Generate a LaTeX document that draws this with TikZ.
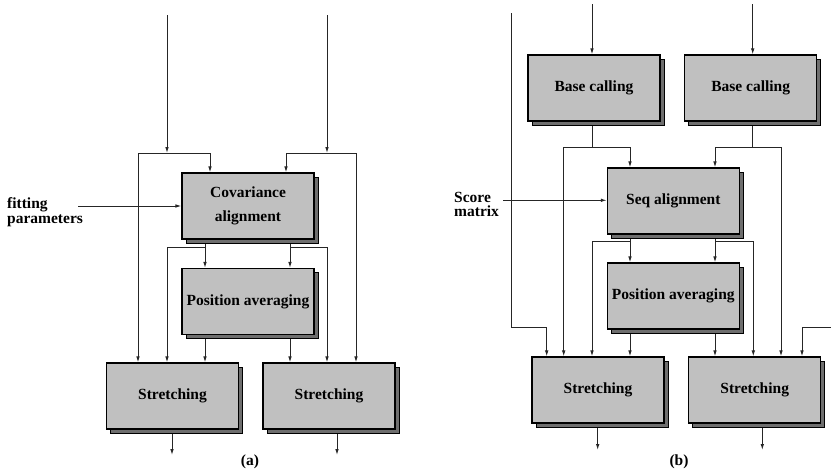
\documentclass[tikz,border=0pt]{standalone}
\usepackage{fontspec}
\setmainfont{Liberation Serif}
\usetikzlibrary{arrows.meta,shadows,backgrounds}
\definecolor{boxgray}{HTML}{C0C0C0}
\definecolor{shadegray}{HTML}{6E6E6E}
\tikzset{
  block/.style={rectangle, draw=black, line width=1.1pt, fill=boxgray,
    minimum width=132pt, minimum height=66pt, inner sep=0pt, align=center,
    font=\bfseries\fontsize{15.5}{24}\selectfont,
    copy shadow={shadow xshift=4pt, shadow yshift=-4pt, fill=shadegray, draw=black, line width=0.7pt}},
  wire/.style={line width=1pt, draw=black!85},
  arr/.style={wire, -{Latex[length=6pt,width=3.6pt]}},
  sidelabel/.style={align=left, inner sep=0pt, font=\bfseries\fontsize{15.5}{#1}\selectfont},
  caption/.style={inner sep=0pt, font=\bfseries\fontsize{15.5}{18}\selectfont}
}
\begin{document}
\begin{tikzpicture}[x=1pt, y=-1pt]
\useasboundingbox (0,0) rectangle (831,474);

% ---------------- (a) ----------------
\node[block] (cov) at (248,206)   {Covariance\\alignment};
\node[block] (pa)  at (248,301.5) {Position averaging};
\node[block] (stL) at (172.5,396) {Stretching};
\node[block] (stR) at (329,396)   {Stretching};

\node[sidelabel=15, anchor=west] (fit) at (7,212) {fitting\\parameters};
\node[caption] (capa) at (250,462) {(a)};

% column and junction points
\coordinate (c138) at (138,0);
\coordinate (c167) at (167,0);
\coordinate (c205) at (205,0);
\coordinate (c210) at (210,0);
\coordinate (c286) at (286,0);
\coordinate (c290) at (290,0);
\coordinate (c327) at (327,0);
\coordinate (c356) at (356,0);
\coordinate (inL)  at (167,15);
\coordinate (inR)  at (327,15);
\coordinate (jL)   at (167,153);
\coordinate (jR)   at (327,153);
\coordinate (kL)   at (205,247);
\coordinate (kR)   at (290,247);
\coordinate (fitend) at (78,206);
\coordinate (outL) at (172,455);
\coordinate (outR) at (337,455);

\begin{scope}[on background layer]
  \draw[arr] (inL) -- (jL);
  \draw[arr] (inR) -- (jR);
  \draw[arr] (jL) -| (cov.north -| c210);
  \draw[arr] (jL) -| (stL.north -| c138);
  \draw[arr] (jR) -| (cov.north -| c286);
  \draw[arr] (jR) -| (stR.north -| c356);
  \draw[arr] (fitend) -- (cov.west |- fitend);
  \draw[arr] (cov.south -| c205) -- (pa.north -| c205);
  \draw[arr] (cov.south -| c290) -- (pa.north -| c290);
  \draw[arr] (kL) -| (stL.north -| c167);
  \draw[arr] (kR) -| (stR.north -| c327);
  \draw[arr] (pa.south -| c205) -- (stL.north -| c205);
  \draw[arr] (pa.south -| c290) -- (stR.north -| c290);
  \draw[arr] (stL.south -| outL) -- (outL);
  \draw[arr] (stR.south -| outR) -- (outR);
\end{scope}

% ---------------- (b) ----------------
\node[block] (bcL)  at (594,88)    {Base calling};
\node[block] (bcR)  at (750.7,88)  {Base calling};
\node[block] (sa)   at (673.3,201) {Seq alignment};
\node[block] (pab)  at (673.3,296) {Position averaging};
\node[block] (stLb) at (598,390)   {Stretching};
\node[block] (stRb) at (754.7,390) {Stretching};

\node[sidelabel=14, anchor=west] (score) at (454,204) {Score\\matrix};
\node[caption] (capb) at (679,462) {(b)};

\coordinate (c547) at (546.7,0);
\coordinate (c563) at (563.7,0);
\coordinate (c592) at (592,0);
\coordinate (c630) at (630,0);
\coordinate (c715) at (715,0);
\coordinate (c753) at (753.3,0);
\coordinate (c781) at (781,0);
\coordinate (c802) at (802,0);
\coordinate (inLb) at (592,4);
\coordinate (inRb) at (752.7,4);
\coordinate (mL)   at (592,147);
\coordinate (mR)   at (752.7,147);
\coordinate (nL)   at (630,241.7);
\coordinate (nR)   at (715,241.7);
\coordinate (scoreend) at (503,200.3);
\coordinate (longtop)  at (511.7,13);
\coordinate (longbend) at (511.7,327);
\coordinate (rightin)  at (831,327);
\coordinate (outLb) at (597.7,450);
\coordinate (outRb) at (762.3,450);

\begin{scope}[on background layer]
  \draw[arr] (inLb) -- (bcL.north -| inLb);
  \draw[arr] (inRb) -- (bcR.north -| inRb);
  \draw[wire] (bcL.south -| mL) -- (mL);
  \draw[wire] (bcR.south -| mR) -- (mR);
  \draw[arr] (mL) -| (sa.north -| c630);
  \draw[arr] (mL) -| (stLb.north -| c563);
  \draw[arr] (mR) -| (sa.north -| c715);
  \draw[arr] (mR) -| (stRb.north -| c781);
  \draw[arr] (scoreend) -- (sa.west |- scoreend);
  \draw[arr] (sa.south -| nL) -- (pab.north -| nL);
  \draw[arr] (sa.south -| nR) -- (pab.north -| nR);
  \draw[arr] (nL) -| (stLb.north -| c592);
  \draw[arr] (nR) -| (stRb.north -| c753);
  \draw[arr] (pab.south -| nL) -- (stLb.north -| nL);
  \draw[arr] (pab.south -| nR) -- (stRb.north -| nR);
  \draw[arr] (longtop) -- (longbend) -| (stLb.north -| c547);
  \draw[arr] (rightin) -| (stRb.north -| c802);
  \draw[arr] (stLb.south -| outLb) -- (outLb);
  \draw[arr] (stRb.south -| outRb) -- (outRb);
\end{scope}
\end{tikzpicture}
\end{document}
